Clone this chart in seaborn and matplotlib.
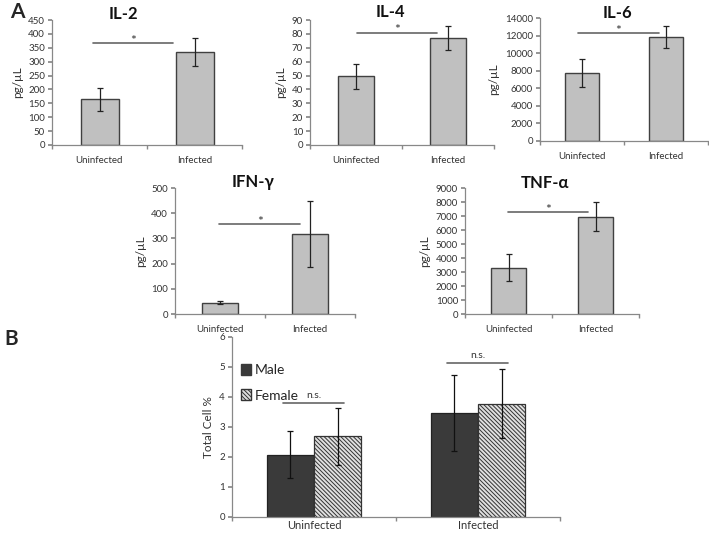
import pandas as pd
import matplotlib.pyplot as plt
import seaborn as sns
from matplotlib.patches import Patch

sns.set_theme(style="white")
plt.rcParams["font.family"] = ["Lato", "DejaVu Sans"]
plt.rcParams["hatch.linewidth"] = 0.7

# ---- data ----
groups = ["Uninfected", "Infected"]

il2_mean = [165, 335]
il2_err = [42, 50]
il4_mean = [49.5, 77]
il4_err = [9, 8.5]
il6_mean = [7700, 11850]
il6_err = [1600, 1250]
ifng_mean = [45, 318]
ifng_err = [7, 132]
tnfa_mean = [3300, 6950]
tnfa_err = [975, 1025]

sig_height = {"IL-2": 367, "IL-4": 81, "IL-6": 12300, "IFN-γ": 357, "TNF-α": 7285}

sexes = ["Male", "Female"]
male_mean = [2.08, 3.47]
male_err = [0.78, 1.27]
female_mean = [2.7, 3.78]
female_err = [0.95, 1.14]
ns_height = [3.8, 5.13]

W, H = 709, 533
fig = plt.figure(figsize=(W / 100, H / 100), dpi=100)


def add_ax(l, t, r, b):
    return fig.add_axes([l / W, 1 - b / H, (r - l) / W, (b - t) / H])


def style_ax(ax, ymax, step, ylabel):
    ax.set_ylim(0, ymax)
    ax.set_yticks(range(0, int(ymax) + 1, int(step)))
    ax.set_xlim(-0.5, 1.5)
    ax.set_xticks([0, 1])
    ax.set_xticks([-0.5, 0.5, 1.5], minor=True)
    ax.tick_params(axis="x", which="major", length=0, labelsize=7, colors="#333333", pad=8)
    ax.tick_params(axis="x", which="minor", length=3, direction="out", color="#888888", bottom=True)
    ax.tick_params(axis="y", length=3, direction="out", color="#888888", labelsize=7,
                   colors="#333333", left=True, pad=2)
    for s in ["top", "right"]:
        ax.spines[s].set_visible(False)
    for s in ["left", "bottom"]:
        ax.spines[s].set_color("#888888")
        ax.spines[s].set_linewidth(0.9)
    ax.set_xlabel("")
    ax.set_ylabel(ylabel, fontsize=8.5, color="#333333")


panels = [
    ("IL-2", il2_mean, il2_err, (52, 20, 242, 145), 450, 50, (-0.07, 0.77), (123, 14)),
    ("IL-4", il4_mean, il4_err, (310, 20, 494, 145), 90, 10, (0.01, 0.88), (390, 12)),
    ("IL-6", il6_mean, il6_err, (540, 18, 708, 141), 14000, 2000, (-0.05, 0.92), (617, 13)),
    ("IFN-γ", ifng_mean, ifng_err, (175, 188, 355, 314), 500, 100, (-0.01, 0.89), (253, 182)),
    ("TNF-α", tnfa_mean, tnfa_err, (465, 188, 639, 314), 9000, 1000, (-0.01, 0.91), (545, 183)),
]

for name, mean, err, rect, ymax, step, span, tpos in panels:
    ax = add_ax(*rect)
    df = pd.DataFrame({"group": groups, "value": mean})
    sns.barplot(data=df, x="group", y="value", color="#c0c0c0", edgecolor="#404040",
                linewidth=1.0, width=0.4, errorbar=None, ax=ax, saturation=1)
    ax.errorbar(range(len(groups)), mean, yerr=err, fmt="none", ecolor="#222222",
                elinewidth=0.9, capsize=2.5, capthick=0.9)
    style_ax(ax, ymax, step, "pg/µL")
    h = sig_height[name]
    ax.plot(span, [h, h], color="#666666", lw=1.2, clip_on=False)
    ax.annotate("*", ((span[0] + span[1]) / 2, h), xytext=(0, 1.5), textcoords="offset points",
                ha="center", va="center", fontsize=10, color="#333333")
    fig.text(tpos[0] / W, 1 - tpos[1] / H, name, ha="center", va="center",
             fontsize=12, fontweight="bold", color="#111111")

# ---- panel B ----
axb = add_ax(232, 337, 560, 517)
dfb = pd.DataFrame({
    "group": groups * 2,
    "sex": ["Male"] * 2 + ["Female"] * 2,
    "value": male_mean + female_mean,
})
sns.barplot(data=dfb, x="group", y="value", hue="sex", hue_order=sexes,
            palette=["#3a3a3a", "#e0e0e0"], width=0.575, errorbar=None,
            edgecolor="#222222", linewidth=0.9, saturation=1, ax=axb, legend=False)
hatch = "\\\\\\\\\\\\\\\\"
for bar in axb.containers[1]:
    bar.set_hatch(hatch)
    bar.set_edgecolor("#333333")
for cont, errs in zip(axb.containers, [male_err, female_err]):
    xs = [b.get_x() + b.get_width() / 2 for b in cont]
    ys = [b.get_height() for b in cont]
    axb.errorbar(xs, ys, yerr=errs, fmt="none", ecolor="#111111", elinewidth=0.9,
                 capsize=2.5, capthick=0.9)
style_ax(axb, 6, 1, "Total Cell %")
axb.tick_params(axis="x", which="major", labelsize=8, pad=2)

for i, h in enumerate(ns_height):
    axb.plot([i - 0.19, i + 0.18], [h, h], color="#666666", lw=1.2)
    axb.annotate("n.s.", (i, h), xytext=(0, 2), textcoords="offset points",
                 ha="center", va="bottom", fontsize=7.5, color="#333333")

handles = [Patch(facecolor="#3a3a3a", edgecolor="#3a3a3a"),
           Patch(facecolor="#e0e0e0", edgecolor="#333333", hatch=hatch)]
axb.legend(handles, sexes, loc="upper left", bbox_to_anchor=(-0.01, 0.92), frameon=False,
           handlelength=0.7, handleheight=0.9, handletextpad=0.3, labelspacing=0.9,
           fontsize=10)

fig.text(10 / W, 1 - 12 / H, "A", ha="left", va="center", fontsize=15, fontweight="bold")
fig.text(4 / W, 1 - 339 / H, "B", ha="left", va="center", fontsize=15, fontweight="bold")

fig.savefig("out.png", dpi=100)
